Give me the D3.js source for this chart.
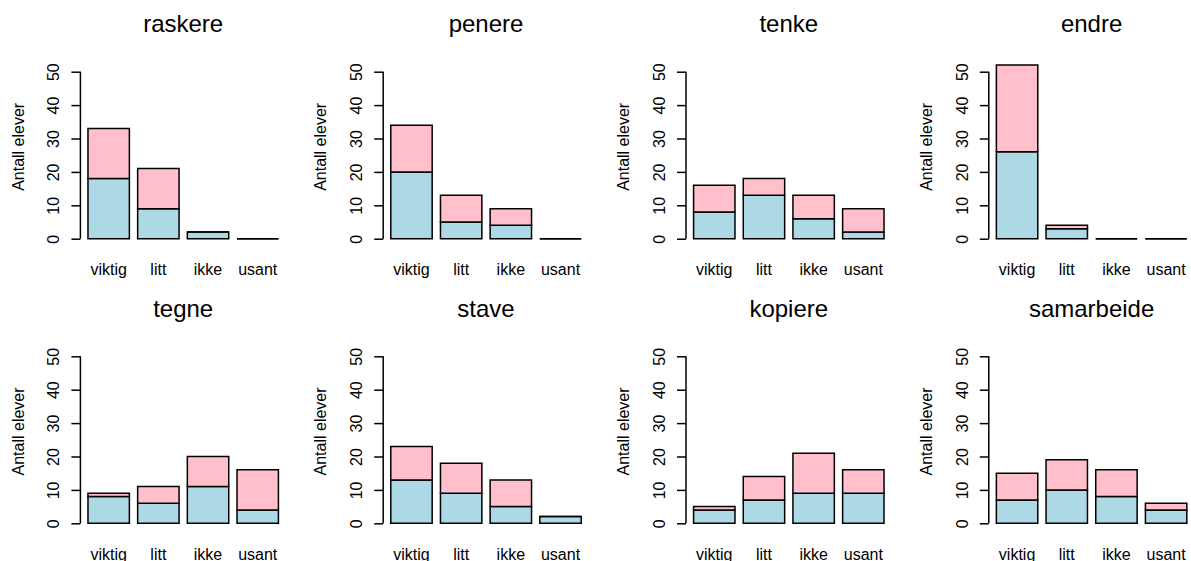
<!DOCTYPE html>
<html>
<head>
<meta charset="utf-8">
<script src="https://cdn.jsdelivr.net/npm/d3@7"></script>
<style>
    body { margin: 0; background: #fff; }
    svg { display: block; font-family: "Liberation Sans", Arial, sans-serif; }
</style>
</head>
<body>
<div id="chart"></div>
<script>
"use strict";

// one panel per question, answers stacked (blue = first group, pink = second group)
const categories = ["viktig", "litt", "ikke", "usant"];
const titles = ["raskere", "penere", "tenke", "endre", "tegne", "stave", "kopiere", "samarbeide"];
const blueValues = [
    [18, 9, 2, 0],
    [20, 5, 4, 0],
    [8, 13, 6, 2],
    [26, 3, 0, 0],
    [8, 6, 11, 4],
    [13, 9, 5, 2],
    [4, 7, 9, 9],
    [7, 10, 8, 4]
];
const pinkValues = [
    [15, 12, 0, 0],
    [14, 8, 5, 0],
    [8, 5, 7, 7],
    [26, 1, 0, 0],
    [1, 5, 9, 12],
    [10, 9, 8, 0],
    [1, 7, 12, 7],
    [8, 9, 8, 2]
];
const yTicks = [0, 10, 20, 30, 40, 50];
const yLabel = "Antall elever";

// layout of the 4 x 2 grid
const width = 1191, height = 561;
const colStep = 302.8, rowStep = 284.6;
const barLeft = 79.7, barRight = 286.7;   // band range inside a panel
const plotLeft = 80.4;
const plotTop = 47.65, plotBottom = 246.05;

const svg = d3.select("#chart")
    .append("svg")
    .attr("width", width)
    .attr("height", height);

const x = d3.scaleBand()
    .domain(categories)
    .range([barLeft, barRight])
    .paddingInner(1 / 6)
    .paddingOuter(1 / 6);

const y = d3.scaleLinear()
    .domain([-2.2, 57.2])
    .range([plotBottom, plotTop]);

function segPath(x0, w, v0, v1) {
    const top = y(v1), bot = y(v0);
    return `M${x0},${bot}H${x0 + w}V${top}H${x0}Z`;
}

titles.forEach((title, i) => {
    const col = i % 4, row = Math.floor(i / 4);
    const g = svg.append("g")
        .attr("transform", `translate(${col * colStep}, ${row * rowStep})`);

    const rows = categories.map((c, j) => ({
        cat: c,
        blue: blueValues[i][j],
        pink: pinkValues[i][j]
    }));

    // blue bottom segment
    g.selectAll(".blue")
        .data(rows)
        .join("path")
        .attr("class", "blue")
        .attr("d", d => segPath(x(d.cat), x.bandwidth(), 0, d.blue))
        .attr("fill", "#ADD8E6")
        .attr("stroke", "#000")
        .attr("stroke-width", 1.5);

    // pink top segment
    g.selectAll(".pink")
        .data(rows)
        .join("path")
        .attr("class", "pink")
        .attr("d", d => segPath(x(d.cat), x.bandwidth(), d.blue, d.blue + d.pink))
        .attr("fill", "#FFC0CB")
        .attr("stroke", "#000")
        .attr("stroke-width", 1.5);

    // y axis
    const yAxis = g.append("g")
        .attr("transform", `translate(${plotLeft}, 0)`)
        .call(d3.axisLeft(y).tickValues(yTicks).tickSize(9).tickSizeOuter(0));
    yAxis.select(".domain").remove();
    yAxis.append("line")
        .attr("y1", y(yTicks[0]))
        .attr("y2", y(yTicks[yTicks.length - 1]))
        .attr("stroke", "#000")
        .attr("stroke-width", 1.5);
    yAxis.selectAll(".tick line").attr("stroke", "#000").attr("stroke-width", 1.5);
    yAxis.selectAll(".tick text")
        .attr("transform", "rotate(-90)")
        .attr("x", 0)
        .attr("y", -21)
        .attr("dy", 0)
        .attr("text-anchor", "middle")
        .attr("fill", "#000")
        .style("font-size", "16px")
        .style("font-family", "'Liberation Sans', Arial, sans-serif");

    // y label
    g.append("text")
        .attr("transform", `translate(23.5, ${(plotTop + plotBottom) / 2}) rotate(-90)`)
        .attr("text-anchor", "middle")
        .style("font-size", "16px")
        .text(yLabel);

    // category names
    g.selectAll(".cat")
        .data(categories)
        .join("text")
        .attr("class", "cat")
        .attr("x", d => x(d) + x.bandwidth() / 2)
        .attr("y", 275)
        .attr("text-anchor", "middle")
        .style("font-size", "16px")
        .text(d => d);

    // title
    g.append("text")
        .attr("x", (barLeft + barRight) / 2)
        .attr("y", 32)
        .attr("text-anchor", "middle")
        .style("font-size", "24px")
        .text(title);
});
</script>
</body>
</html>
